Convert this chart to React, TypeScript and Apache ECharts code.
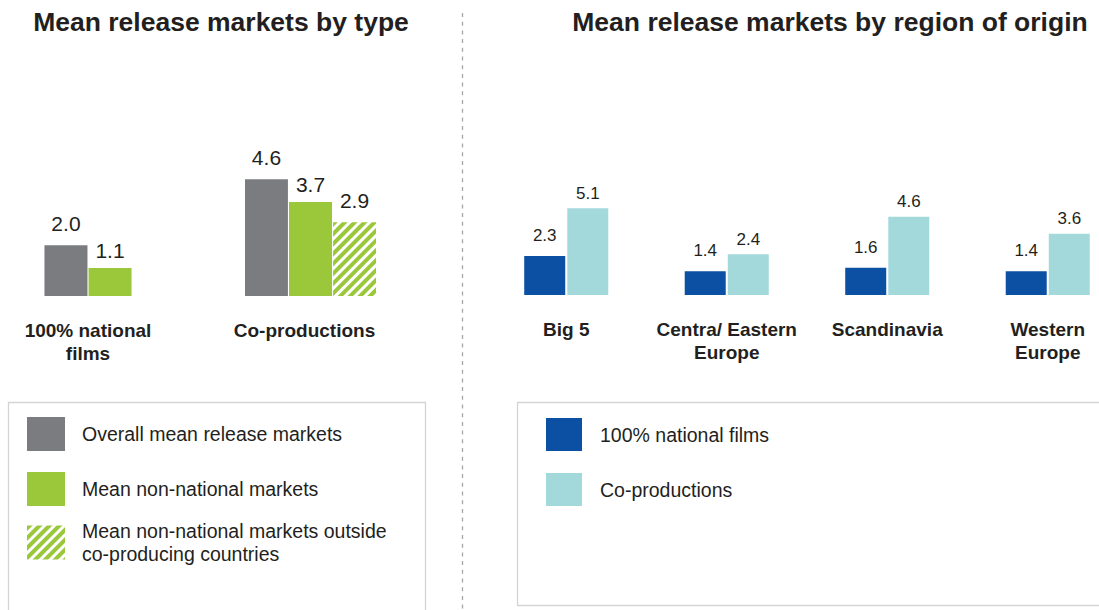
import React, { useEffect, useRef } from 'react';
import * as echarts from 'echarts';

// ---- data ----
const typeCategories = ['100% national\nfilms', 'Co-productions'];
const regionCategories = ['Big 5', 'Centra/ Eastern\nEurope', 'Scandinavia', 'Western\nEurope'];

const overallMean = [2.0, 4.6]; // by type
const nonNationalMean = [1.1, 3.7]; // by type
const outsideCoproducing = [2.9]; // co-productions only

const nationalFilms = [2.3, 1.4, 1.6, 1.4]; // by region
const coProductions = [5.1, 2.4, 4.6, 3.6]; // by region

const NAME_OVERALL = 'Overall mean release markets';
const NAME_NONNAT = 'Mean non-national markets';
const NAME_OUTSIDE = 'Mean non-national markets outside co-producing countries';
const NAME_NATIONAL = '100% national films';
const NAME_COPROD = 'Co-productions';

const TITLE_LEFT = 'Mean release markets by type';
const TITLE_RIGHT = 'Mean release markets by region of origin';

// ---- styles ----
const FONT = 'Liberation Sans';
const DARK = '#231f20';
const GRAY = '#7b7c80';
const GREEN = '#9ac83a';
const BLUE = '#0b50a2';
const TEAL = '#a3d9db';

const fmt = (p: any) => Number(p.value).toFixed(1);

const catAxis = (gridIndex: number, data: string[], labelExtra: any = {}) => ({
  type: 'category',
  gridIndex,
  data,
  axisLine: { show: false },
  axisTick: { show: false },
  axisLabel: {
    interval: 0,
    margin: 23,
    fontSize: 19,
    fontWeight: 'bold',
    color: DARK,
    lineHeight: 23,
    fontFamily: FONT,
    ...labelExtra,
  },
});

const valAxis = (gridIndex: number) => ({
  type: 'value',
  gridIndex,
  min: 0,
  max: 6,
  show: false,
});

const barLabel = (fontSize: number, distance: number) => ({
  show: true,
  position: 'top',
  distance,
  fontSize,
  color: DARK,
  fontFamily: FONT,
  formatter: fmt,
});

const hatch = {
  color: '#ffffff',
  decal: {
    symbol: 'rect',
    symbolSize: 1,
    dashArrayX: [1, 0],
    dashArrayY: [3.5, 3],
    rotation: -Math.PI / 4,
    color: GREEN,
  },
};

const legendItem = (name: string, left: number, top: number, w: number, h: number, extra: any = {}) => ({
  data: [name],
  left,
  top,
  orient: 'vertical',
  padding: 0,
  icon: 'rect',
  itemWidth: w,
  itemHeight: h,
  selectedMode: false,
  textStyle: {
    fontSize: 19.5,
    color: DARK,
    fontFamily: FONT,
    padding: [0, 0, 0, 12],
    lineHeight: 23.5,
    ...extra,
  },
});

export default function App() {
  const ref = useRef<HTMLDivElement>(null);

  useEffect(() => {
    if (!ref.current) return;
    const chart = echarts.init(ref.current, null, { renderer: 'svg' });

    const leftTop = 296 - 6 * 25.4;
    const rightTop = 295 - 6 * 17;

    const option: any = {
      animation: false,
      textStyle: { fontFamily: FONT },
      grid: [
        { left: 44, width: 88, top: leftTop, height: 6 * 25.4 },
        { left: 245, width: 131, top: leftTop, height: 6 * 25.4 },
        { left: 486, width: 642, top: rightTop, height: 6 * 17 },
      ],
      xAxis: [
        catAxis(0, [typeCategories[0]]),
        catAxis(1, [typeCategories[1]], { padding: [0, 12, 0, 0] }),
        catAxis(2, regionCategories),
      ],
      yAxis: [valAxis(0), valAxis(1), valAxis(2)],
      legend: [
        legendItem(NAME_OVERALL, 27, 417, 38, 34),
        legendItem(NAME_NONNAT, 27, 472, 38, 34),
        legendItem(NAME_OUTSIDE, 27, 515, 38, 34, { width: 330, overflow: 'break', padding: [8, 0, 0, 12] }),
        legendItem(NAME_NATIONAL, 546, 418, 36, 33, { padding: [0, 0, 0, 13] }),
        legendItem(NAME_COPROD, 546, 473, 36, 33, { padding: [0, 0, 0, 13] }),
      ],
      series: [
        // left: 100% national films
        {
          type: 'bar', name: NAME_OVERALL, xAxisIndex: 0, yAxisIndex: 0,
          data: [overallMean[0]], barWidth: 43, barGap: '2.5%',
          itemStyle: { color: GRAY }, label: barLabel(21, 11.5),
        },
        {
          type: 'bar', name: NAME_NONNAT, xAxisIndex: 0, yAxisIndex: 0,
          data: [nonNationalMean[0]], barWidth: 43, barGap: '2.5%',
          itemStyle: { color: GREEN }, label: barLabel(21, 7.5),
        },
        // left: co-productions
        {
          type: 'bar', name: NAME_OVERALL, xAxisIndex: 1, yAxisIndex: 1,
          data: [overallMean[1]], barWidth: 43, barGap: '2.5%',
          itemStyle: { color: GRAY }, label: barLabel(21, 11.5),
        },
        {
          type: 'bar', name: NAME_NONNAT, xAxisIndex: 1, yAxisIndex: 1,
          data: [nonNationalMean[1]], barWidth: 43, barGap: '2.5%',
          itemStyle: { color: GREEN }, label: barLabel(21, 7.5),
        },
        {
          type: 'bar', name: NAME_OUTSIDE, xAxisIndex: 1, yAxisIndex: 1,
          data: outsideCoproducing, barWidth: 43, barGap: '2.5%',
          itemStyle: hatch, label: barLabel(21, 11.5),
        },
        // right: by region
        {
          type: 'bar', name: NAME_NATIONAL, xAxisIndex: 2, yAxisIndex: 2,
          data: nationalFilms, barWidth: 41, barGap: '5%',
          itemStyle: { color: BLUE }, label: barLabel(17, 12),
        },
        {
          type: 'bar', name: NAME_COPROD, xAxisIndex: 2, yAxisIndex: 2,
          data: coProductions, barWidth: 41, barGap: '5%',
          itemStyle: { color: TEAL }, label: barLabel(17, 6.5),
        },
      ],
      graphic: [
        {
          type: 'text', x: 221, y: 22,
          style: { text: TITLE_LEFT, font: `bold 26.5px "${FONT}"`, fill: DARK, align: 'center', verticalAlign: 'middle' },
        },
        {
          type: 'text', x: 830, y: 22,
          style: { text: TITLE_RIGHT, font: `bold 26.5px "${FONT}"`, fill: DARK, align: 'center', verticalAlign: 'middle' },
        },
        {
          type: 'line', shape: { x1: 462.5, y1: 13, x2: 462.5, y2: 610 },
          style: { stroke: '#a6a6a6', lineWidth: 1.3, lineDash: [4, 4.7] },
        },
        {
          type: 'rect', shape: { x: 8.5, y: 402.5, width: 417, height: 230 },
          style: { fill: 'none', stroke: '#d4d4d4', lineWidth: 1.3 },
        },
        {
          type: 'rect', shape: { x: 517.5, y: 402.5, width: 640, height: 203 },
          style: { fill: 'none', stroke: '#d4d4d4', lineWidth: 1.3 },
        },
      ],
    };

    chart.setOption(option);
    return () => chart.dispose();
  }, []);

  return (
    <div
      style={{ position: 'absolute', left: 0, top: 0, width: 1099, height: 610, overflow: 'hidden', background: '#ffffff' }}
    >
      <div ref={ref} style={{ width: 1140, height: 610 }} />
    </div>
  );
}
